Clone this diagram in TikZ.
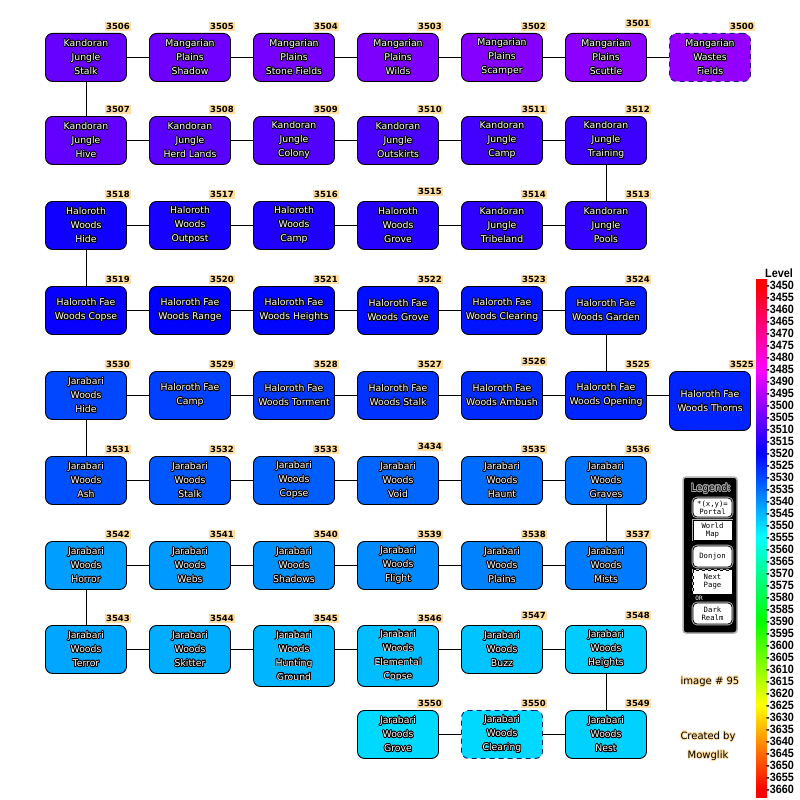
\documentclass[tikz,border=0pt]{standalone}
\usepackage{fontspec}
\usepackage{contour}
\newfontfamily\roomfont{DejaVu Sans}
\newfontfamily\barfont[FakeStretch=0.9]{Liberation Sans}
\newfontfamily\legfont{DejaVu Sans Mono}
\contourlength{0.75pt}
\definecolor{tagfill}{RGB}{255,222,160}
\definecolor{navyline}{RGB}{20,30,110}
\definecolor{lvred}{RGB}{255,0,0}
\definecolor{lvmagenta}{RGB}{255,0,255}
\definecolor{lvblue}{RGB}{0,0,255}
\definecolor{lvcyan}{RGB}{0,255,255}
\definecolor{lvgreen}{RGB}{0,255,0}
\definecolor{lvyellow}{RGB}{255,255,0}
\pgfdeclareverticalshading{levelbar}{100bp}{color(0bp)=(lvred); color(25.77bp)=(lvred);
  color(33.88bp)=(lvyellow); color(41.99bp)=(lvgreen); color(50.1bp)=(lvcyan);
  color(58.2bp)=(lvblue); color(66.31bp)=(lvmagenta); color(74.42bp)=(lvred); color(100bp)=(lvred)}
\newcommand\rl[1]{\contour{black}{#1}}

\tikzset{
  roombox/.style={draw=black, line width=0.9pt, rounded corners=7pt,
    minimum width=81pt, minimum height=48pt, inner sep=1pt, align=center,
    text=white, font=\roomfont\fontsize{9.3}{14}\selectfont, anchor=north},
  lv/.code={\pgfmathtruncatemacro\lvp{#1>3520 ? (#1-3520)*100/35 : (#1-3485)*100/35}%
    \ifnum#1>3520\relax\colorlet{roomfill}{lvcyan!\lvp!lvblue}\else\colorlet{roomfill}{lvblue!\lvp!lvmagenta}\fi
    \pgfkeysalso{fill=roomfill}},
  lvtag/.style={fill=tagfill, text=black, inner sep=1pt, anchor=south east,
    xshift=4pt, yshift=2pt, font=\roomfont\bfseries\fontsize{8.5}{9}\selectfont},
  tag/.style={label={[lvtag]north east:#1}},
  tagup/.style={label={[lvtag, yshift=3pt]north east:#1}},
  room/.style={roombox, lv=#1, tag=#1},
  nextpage/.style={draw=navyline, dash pattern=on 5pt off 4pt},
  barlabel/.style={anchor=west, inner sep=0pt, font=\barfont\bfseries\fontsize{12}{12}\selectfont},
  lgitem/.style={fill=white, draw=black, line width=0.8pt, preaction={draw=gray!60, line width=2.6pt},
    minimum width=39pt, inner sep=0pt, align=center, text=black,
    font=\legfont\fontsize{7.3}{8}\selectfont},
  credit/.style={text=black, inner sep=0pt, font=\roomfont\fontsize{10}{11}\selectfont}
}

\begin{document}
\begin{tikzpicture}[x=1pt, y=-1pt]
  \fill[white] (0,0) rectangle (800,800);
  \useasboundingbox (0,0) rectangle (800,800);

  % row 1
  \node[room=3506] (r3506) at (86,33) {\rl{Kandoran}\\\rl{Jungle}\\\rl{Stalk}};
  \node[room=3505] (r3505) at (190,33) {\rl{Mangarian}\\\rl{Plains}\\\rl{Shadow}};
  \node[room=3504] (r3504) at (294,33) {\rl{Mangarian}\\\rl{Plains}\\\rl{Stone Fields}};
  \node[room=3503] (r3503) at (398,33) {\rl{Mangarian}\\\rl{Plains}\\\rl{Wilds}};
  \node[room=3502] (r3502) at (502,33) {\rl{Mangarian}\\\rl{Plains}\\\rl{Scamper}};
  \node[roombox, lv=3501, tagup=3501] (r3501) at (606,33) {\rl{Mangarian}\\\rl{Plains}\\\rl{Scuttle}};
  \node[room=3500, nextpage] (r3500) at (710,33) {\rl{Mangarian}\\\rl{Wastes}\\\rl{Fields}};
  % row 2
  \node[room=3507] (r3507) at (86,116) {\rl{Kandoran}\\\rl{Jungle}\\\rl{Hive}};
  \node[room=3508] (r3508) at (190,116) {\rl{Kandoran}\\\rl{Jungle}\\\rl{Herd Lands}};
  \node[room=3509] (r3509) at (294,116) {\rl{Kandoran}\\\rl{Jungle}\\\rl{Colony}};
  \node[room=3510] (r3510) at (398,116) {\rl{Kandoran}\\\rl{Jungle}\\\rl{Outskirts}};
  \node[room=3511] (r3511) at (502,116) {\rl{Kandoran}\\\rl{Jungle}\\\rl{Camp}};
  \node[room=3512] (r3512) at (606,116) {\rl{Kandoran}\\\rl{Jungle}\\\rl{Training}};
  % row 3
  \node[room=3518] (r3518) at (86,201) {\rl{Haloroth}\\\rl{Woods}\\\rl{Hide}};
  \node[room=3517] (r3517) at (190,201) {\rl{Haloroth}\\\rl{Woods}\\\rl{Outpost}};
  \node[room=3516] (r3516) at (294,201) {\rl{Haloroth}\\\rl{Woods}\\\rl{Camp}};
  \node[roombox, lv=3515, tagup=3515] (r3515) at (398,201) {\rl{Haloroth}\\\rl{Woods}\\\rl{Grove}};
  \node[room=3514] (r3514) at (502,201) {\rl{Kandoran}\\\rl{Jungle}\\\rl{Tribeland}};
  \node[room=3513] (r3513) at (606,201) {\rl{Kandoran}\\\rl{Jungle}\\\rl{Pools}};
  % row 4
  \node[room=3519] (r3519) at (86,286) {\rl{Haloroth Fae}\\\rl{Woods Copse}};
  \node[room=3520] (r3520) at (190,286) {\rl{Haloroth Fae}\\\rl{Woods Range}};
  \node[room=3521] (r3521) at (294,286) {\rl{Haloroth Fae}\\\rl{Woods Heights}};
  \node[room=3522] (r3522) at (398,286) {\rl{Haloroth Fae}\\\rl{Woods Grove}};
  \node[room=3523] (r3523) at (502,286) {\rl{Haloroth Fae}\\\rl{Woods Clearing}};
  \node[room=3524] (r3524) at (606,286) {\rl{Haloroth Fae}\\\rl{Woods Garden}};
  % row 5
  \node[room=3530] (r3530) at (86,371) {\rl{Jarabari}\\\rl{Woods}\\\rl{Hide}};
  \node[room=3529] (r3529) at (190,371) {\rl{Haloroth Fae}\\\rl{Camp}};
  \node[room=3528] (r3528) at (294,371) {\rl{Haloroth Fae}\\\rl{Woods Torment}};
  \node[room=3527] (r3527) at (398,371) {\rl{Haloroth Fae}\\\rl{Woods Stalk}};
  \node[roombox, lv=3526, tagup=3526] (r3526) at (502,371) {\rl{Haloroth Fae}\\\rl{Woods Ambush}};
  \node[room=3525] (r3525) at (606,371) {\rl{Haloroth Fae}\\\rl{Woods Opening}};
  \node[room=3525, minimum height=59pt] (r3525t) at (710,371) {\rl{Haloroth Fae}\\\rl{Woods Thorns}};
  % row 6
  \node[room=3531] (r3531) at (86,456) {\rl{Jarabari}\\\rl{Woods}\\\rl{Ash}};
  \node[room=3532] (r3532) at (190,456) {\rl{Jarabari}\\\rl{Woods}\\\rl{Stalk}};
  \node[room=3533] (r3533) at (294,456) {\rl{Jarabari}\\\rl{Woods}\\\rl{Copse}};
  \node[roombox, lv=3534, tagup=3434] (r3534) at (398,456) {\rl{Jarabari}\\\rl{Woods}\\\rl{Void}};
  \node[room=3535] (r3535) at (502,456) {\rl{Jarabari}\\\rl{Woods}\\\rl{Haunt}};
  \node[room=3536] (r3536) at (606,456) {\rl{Jarabari}\\\rl{Woods}\\\rl{Graves}};
  % row 7
  \node[room=3542] (r3542) at (86,541) {\rl{Jarabari}\\\rl{Woods}\\\rl{Horror}};
  \node[room=3541] (r3541) at (190,541) {\rl{Jarabari}\\\rl{Woods}\\\rl{Webs}};
  \node[room=3540] (r3540) at (294,541) {\rl{Jarabari}\\\rl{Woods}\\\rl{Shadows}};
  \node[room=3539] (r3539) at (398,541) {\rl{Jarabari}\\\rl{Woods}\\\rl{Flight}};
  \node[room=3538] (r3538) at (502,541) {\rl{Jarabari}\\\rl{Woods}\\\rl{Plains}};
  \node[room=3537] (r3537) at (606,541) {\rl{Jarabari}\\\rl{Woods}\\\rl{Mists}};
  % row 8
  \node[room=3543] (r3543) at (86,625) {\rl{Jarabari}\\\rl{Woods}\\\rl{Terror}};
  \node[room=3544] (r3544) at (190,625) {\rl{Jarabari}\\\rl{Woods}\\\rl{Skitter}};
  \node[room=3545, minimum height=61pt] (r3545) at (294,625) {\rl{Jarabari}\\\rl{Woods}\\\rl{Hunting}\\\rl{Ground}};
  \node[room=3546, minimum height=61pt] (r3546) at (398,625) {\rl{Jarabari}\\\rl{Woods}\\\rl{Elemental}\\\rl{Copse}};
  \node[roombox, lv=3547, tagup=3547] (r3547) at (502,625) {\rl{Jarabari}\\\rl{Woods}\\\rl{Buzz}};
  \node[roombox, lv=3548, tagup=3548] (r3548) at (606,625) {\rl{Jarabari}\\\rl{Woods}\\\rl{Heights}};
  % row 9
  \node[room=3550] (r3550) at (398,710) {\rl{Jarabari}\\\rl{Woods}\\\rl{Grove}};
  \node[room=3550, nextpage] (r3550c) at (502,710) {\rl{Jarabari}\\\rl{Woods}\\\rl{Clearing}};
  \node[room=3549] (r3549) at (606,710) {\rl{Jarabari}\\\rl{Woods}\\\rl{Nest}};

  % links
  \foreach \a/\b in {r3506/r3505, r3505/r3504, r3504/r3503, r3503/r3502, r3502/r3501, r3501/r3500,
      r3507/r3508, r3508/r3509, r3509/r3510, r3510/r3511, r3511/r3512,
      r3518/r3517, r3517/r3516, r3516/r3515, r3515/r3514, r3514/r3513,
      r3519/r3520, r3520/r3521, r3521/r3522, r3522/r3523, r3523/r3524,
      r3530/r3529, r3529/r3528, r3528/r3527, r3527/r3526, r3526/r3525, r3525/r3525t,
      r3531/r3532, r3532/r3533, r3533/r3534, r3534/r3535, r3535/r3536,
      r3542/r3541, r3541/r3540, r3540/r3539, r3539/r3538, r3538/r3537,
      r3543/r3544, r3544/r3545, r3545/r3546, r3546/r3547, r3547/r3548,
      r3550/r3550c, r3550c/r3549}
    \draw[line width=0.9pt] ([yshift=-24pt]\a.north east) -- ([yshift=-24pt]\b.north west);
  \foreach \a/\b in {r3506/r3507, r3512/r3513, r3518/r3519, r3524/r3525,
      r3530/r3531, r3536/r3537, r3542/r3543, r3548/r3549}
    \draw[line width=0.9pt] (\a) -- (\b);

  % level bar
  \shade[shading=levelbar] (756,279) rectangle (767,797);
  \node[barlabel] (lvtitle) at (765,273) {Level};
  \foreach \v [count=\i from 0] in {3450,3455,...,3660}
    \node[barlabel] (lv\v) at (766,{285+12*\i}) {-\v};

  % legend
  \node[fill=black, draw=gray!60, line width=1.5pt, rounded corners=3pt,
    minimum width=54pt, minimum height=156pt] (legend) at (710,555) {};
  \node[text=black, inner sep=0pt, font=\roomfont\fontsize{10}{11}\selectfont] (lgtitle) at (711,489) {\contour{gray!70}{Legend:}};
  \node[lgitem, rounded corners=4pt, minimum height=19pt] (lgportal) at (712.5,507.5) {*(x,y)=\\Portal};
  \node[lgitem, minimum height=20pt] (lgmap) at (712.5,530) {World\\Map};
  \node[lgitem, rounded corners=4pt, minimum height=21pt] (lgdonjon) at (712.5,556.5) {Donjon};
  \node[lgitem, dashed, minimum height=24pt] (lgnext) at (712.5,582) {Next\\Page};
  \node[text=white, inner sep=0pt, font=\legfont\fontsize{6}{6}\selectfont] (lgor) at (699,598) {OR};
  \node[lgitem, rounded corners=4pt, minimum height=21pt] (lgrealm) at (712.5,613.5) {Dark\\Realm};

  % credits
  \node[credit] (imgno) at (710,682) {\contour{tagfill}{image \# 95}};
  \node[credit] (made) at (708,737) {\contour{tagfill}{Created by}};
  \node[credit] (author) at (708,756) {\contour{tagfill}{Mowglik}};
\end{tikzpicture}
\end{document}
